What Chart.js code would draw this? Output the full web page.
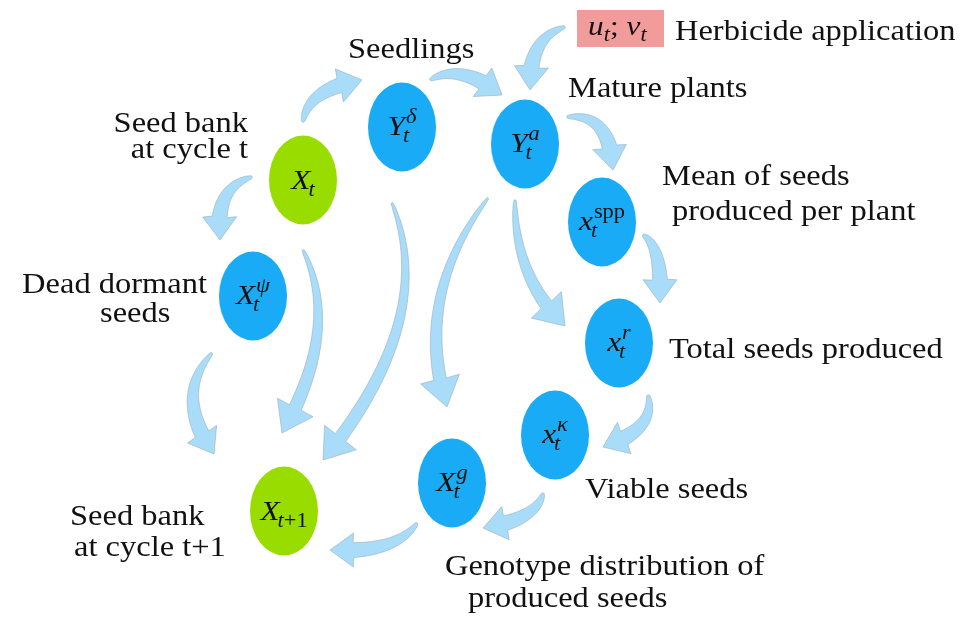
<!DOCTYPE html>
<html>
<head>
<meta charset="utf-8">
<script src="https://cdn.jsdelivr.net/npm/chart.js@4.4.0/dist/chart.umd.min.js"></script>
<style>
  body { margin: 0; background: #fff; }
  #wrap { width: 971px; height: 619px; }
</style>
</head>
<body>
<div id="wrap"><canvas id="diagram"></canvas></div>
<script>
// nodes of the life cycle (base symbol, subscript, superscript)
const nodeBase = ['X', 'Y', 'Y', 'x', 'x', 'x', 'X', 'X', 'X'];
const nodeSub  = ['t', 't', 't', 't', 't', 't', 't', 't+1', 't'];
const nodeSup  = ['', 'δ', 'a', 'spp', 'r', 'κ', 'g', '', 'ψ'];
const nodeKind = ['seed', 'pop', 'pop', 'pop', 'pop', 'pop', 'pop', 'seed', 'pop'];
const nodeX = [303, 402, 525, 602, 619, 555, 452, 284, 253];
const nodeY = [180, 127, 144, 222, 343, 435, 483, 511, 296];

// arrows: tail point, a point half way along the bend, tip
const arrowTail = [[303,122],[430,80],[565,27],[567,117],[643,235],[515,200],[648,395],[543,493],[417,523],[252,177],[212,353],[303,250],[392,203],[488,198]];
const arrowBend = [[320,95],[463,75],[538,48],[600,128],[657,258],[527,270],[641,425],[525,515],[385,545],[225,198],[193,400],[317,335],[398,325],[440,300]];
const arrowTip  = [[362,80],[502,95],[530,90],[613,170],[660,303],[565,326],[603,447],[483,528],[330,550],[220,240],[214,454],[282,433],[323,460],[447,407]];
const arrowLong = [false,false,false,false,false,true,false,false,false,false,false,true,true,true];

// text labels
const labelText = ['Seedlings', 'Mature plants', 'Herbicide application', 'Mean of seeds', 'produced per plant',
  'Total seeds produced', 'Viable seeds', 'Genotype distribution of', 'produced seeds',
  'Seed bank', 'at cycle t', 'Dead dormant', 'seeds', 'Seed bank', 'at cycle t+1'];
const labelAt = [[348,58,'left'],[568,97,'left'],[675,40,'left'],[662,185,'left'],[672,220,'left'],
  [669,358,'left'],[585,498,'left'],[445,575,'left'],[468,607,'left'],
  [248,132,'right'],[248,158,'right'],[207,293,'right'],[100,322,'left'],[70,525,'left'],[74,556,'left']];

const STRETCH = 1.12;
const FONT = '"Liberation Serif", "Times New Roman", serif';
const colors = { seed: '#99dd00', pop: '#1aabf7', arrow: '#a9dcf8', arrowEdge: '#9db6c6', box: '#f29b9b' };

//////////////////////////////////////////////////////////////////////////////

function setFont(ctx, size, italic) {
    ctx.font = (italic ? 'italic ' : '') + size + 'px ' + FONT;
}

function textW(ctx, str, size, italic) {
    setFont(ctx, size, italic);
    return ctx.measureText(str).width * STRETCH;
}

function putText(ctx, str, x, y, size, italic) {
    setFont(ctx, size, italic);
    ctx.save();
    ctx.translate(x, y);
    ctx.scale(STRETCH, 1);
    ctx.textAlign = 'left';
    ctx.textBaseline = 'alphabetic';
    ctx.fillText(str, 0, 0);
    ctx.restore();
}

// letters in math italic, digits and signs upright
function pieces(str, roman) {
    if (roman) return [[str, false]];
    const out = [];
    for (const ch of str) {
        const it = /[a-zA-Zα-ω]/.test(ch);
        if (out.length && out[out.length - 1][1] === it) out[out.length - 1][0] += ch;
        else out.push([ch, it]);
    }
    return out;
}

function piecesW(ctx, ps, size) {
    return ps.reduce((s, p) => s + textW(ctx, p[0], size, p[1]), 0);
}

function drawPieces(ctx, ps, x, y, size) {
    ps.forEach(p => { putText(ctx, p[0], x, y, size, p[1]); x += textW(ctx, p[0], size, p[1]); });
    return x;
}

function mathWidth(ctx, base, sub, sup) {
    const bw = textW(ctx, base, 28, true);
    const sw = sub ? piecesW(ctx, pieces(sub), 20) : 0;
    const pw = sup ? piecesW(ctx, pieces(sup, sup === 'spp'), 20) : 0;
    return bw + Math.max(sw - 2, pw + 1);
}

function drawMath(ctx, cx, baseline, base, sub, sup) {
    const total = mathWidth(ctx, base, sub, sup);
    const x = cx - total / 2;
    const bw = textW(ctx, base, 28, true);
    putText(ctx, base, x, baseline, 28, true);
    if (sup) drawPieces(ctx, pieces(sup, sup === 'spp'), x + bw + 1, baseline - 12, 20);
    if (sub) drawPieces(ctx, pieces(sub), x + bw - 2, baseline + 7, 20);
}

function quadPt(p0, c, p2, t) {
    const a = (1 - t) * (1 - t), b = 2 * t * (1 - t), d = t * t;
    return [a * p0[0] + b * c[0] + d * p2[0], a * p0[1] + b * c[1] + d * p2[1]];
}

function quadDir(p0, c, p2, t) {
    const dx = 2 * (1 - t) * (c[0] - p0[0]) + 2 * t * (p2[0] - c[0]);
    const dy = 2 * (1 - t) * (c[1] - p0[1]) + 2 * t * (p2[1] - c[1]);
    const l = Math.hypot(dx, dy) || 1;
    return [dx / l, dy / l];
}

function drawArrow(ctx, p0, m, p2, long) {
    const c = [2 * m[0] - (p0[0] + p2[0]) / 2, 2 * m[1] - (p0[1] + p2[1]) / 2];
    const headL = long ? 28 : 23, headW = long ? 40 : 34, bodyW = long ? 13 : 15;
    let tEnd = 1;
    for (let t = 1; t > 0; t -= 0.004) {
        const q = quadPt(p0, c, p2, t);
        if (Math.hypot(q[0] - p2[0], q[1] - p2[1]) >= headL) { tEnd = t; break; }
    }
    const n = 40, left = [], right = [];
    for (let i = 0; i <= n; i++) {
        const t = tEnd * i / n;
        const q = quadPt(p0, c, p2, t);
        const d = quadDir(p0, c, p2, t);
        const w = 1 + (bodyW / 2 - 1) * Math.pow(i / n, 0.6);
        left.push([q[0] - d[1] * w, q[1] + d[0] * w]);
        right.push([q[0] + d[1] * w, q[1] - d[0] * w]);
    }
    const b = quadPt(p0, c, p2, tEnd);
    let dx = p2[0] - b[0], dy = p2[1] - b[1];
    const l = Math.hypot(dx, dy) || 1;
    dx /= l; dy /= l;
    ctx.beginPath();
    ctx.moveTo(left[0][0], left[0][1]);
    left.forEach(p => ctx.lineTo(p[0], p[1]));
    ctx.lineTo(b[0] - dy * headW / 2, b[1] + dx * headW / 2);
    ctx.lineTo(p2[0], p2[1]);
    ctx.lineTo(b[0] + dy * headW / 2, b[1] - dx * headW / 2);
    for (let i = right.length - 1; i >= 0; i--) ctx.lineTo(right[i][0], right[i][1]);
    ctx.closePath();
    ctx.fillStyle = colors.arrow;
    ctx.fill();
    ctx.lineWidth = 0.7;
    ctx.strokeStyle = colors.arrowEdge;
    ctx.stroke();
}

//////////////////////////////////////////////////////////////////////////////

const diagramPlugin = {
    id: 'diagram',
    beforeDatasetsDraw(chart) {
        const ctx = chart.ctx, xs = chart.scales.x, ys = chart.scales.y;
        const px = p => [xs.getPixelForValue(p[0]), ys.getPixelForValue(p[1])];
        ctx.save();
        ctx.lineJoin = 'round';
        arrowTail.forEach((t, i) => drawArrow(ctx, px(t), px(arrowBend[i]), px(arrowTip[i]), arrowLong[i]));
        ctx.restore();
    },
    afterDatasetsDraw(chart) {
        const ctx = chart.ctx;
        const meta = chart.getDatasetMeta(0);
        ctx.save();
        meta.data.forEach((pt, i) => {
            const rx = Math.max(34, mathWidth(ctx, nodeBase[i], nodeSub[i], nodeSup[i]) / 2 + 7);
            ctx.beginPath();
            ctx.ellipse(pt.x, pt.y, rx, 44.5, 0, 0, Math.PI * 2);
            ctx.fillStyle = colors[nodeKind[i]];
            ctx.fill();
            ctx.fillStyle = '#111';
            drawMath(ctx, pt.x, pt.y + (nodeSup[i] ? 8 : 9), nodeBase[i], nodeSub[i], nodeSup[i]);
        });
        ctx.restore();
    },
    afterDraw(chart) {
        const ctx = chart.ctx, xs = chart.scales.x, ys = chart.scales.y;
        ctx.save();
        ctx.fillStyle = '#111';
        labelText.forEach((s, i) => {
            const a = labelAt[i];
            const w = textW(ctx, s, 29, false);
            let x = xs.getPixelForValue(a[0]);
            if (a[2] === 'right') x -= w;
            putText(ctx, s, x, ys.getPixelForValue(a[1]), 29, false);
        });
        // herbicide control box
        const bx = xs.getPixelForValue(577), by = ys.getPixelForValue(10);
        ctx.fillStyle = colors.box;
        ctx.fillRect(bx, by, xs.getPixelForValue(664) - bx, ys.getPixelForValue(47) - by);
        ctx.fillStyle = '#111';
        let x = bx + 11, y = ys.getPixelForValue(35);
        putText(ctx, 'u', x, y, 28, true); x += textW(ctx, 'u', 28, true);
        putText(ctx, 't', x, y + 6, 20, true); x += textW(ctx, 't', 20, true);
        putText(ctx, ';', x, y, 28, false); x += textW(ctx, '; ', 28, false);
        putText(ctx, 'v', x, y, 28, true); x += textW(ctx, 'v', 28, true);
        putText(ctx, 't', x, y + 6, 20, true);
        ctx.restore();
    }
};

document.addEventListener('DOMContentLoaded', function() {
    new Chart(document.getElementById('diagram'), {
        type: 'scatter',
        data: {
            datasets: [{
                label: 'nodes',
                data: nodeX.map((x, i) => ({ x: x, y: nodeY[i] })),
                pointRadius: 0,
                pointHoverRadius: 0
            }]
        },
        options: {
            responsive: true,
            maintainAspectRatio: false,
            animation: false,
            events: [],
            layout: { padding: 0, autoPadding: false },
            plugins: { legend: { display: false }, tooltip: { enabled: false } },
            scales: {
                x: { type: 'linear', min: 0, max: 971, display: false },
                y: { type: 'linear', min: 0, max: 619, reverse: true, display: false }
            }
        },
        plugins: [diagramPlugin]
    });
});
</script>
</body>
</html>
